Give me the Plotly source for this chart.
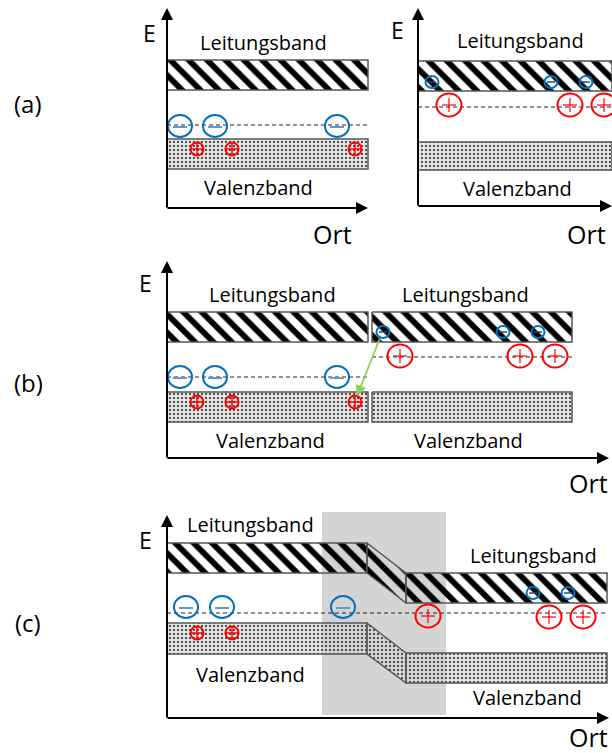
import plotly.graph_objects as go

W, H = 612, 753
FONT = "Open Sans"

# ---- band geometry (polygons in pixel-like data units) ----
cb_polys = [
    # (a) left, (a) right, (b) left, (b) right, (c) left, (c) slant, (c) right
    ([167, 368, 368, 167], [60, 60, 90, 90]),
    ([418, 612, 612, 418], [61, 61, 91, 91]),
    ([167, 368, 368, 167], [312, 312, 342, 342]),
    ([372, 572, 572, 372], [312, 312, 342, 342]),
    ([167, 367, 367, 167], [543, 543, 573, 573]),
    ([367, 406, 406, 367], [543, 573, 603, 573]),
    ([406, 607, 607, 406], [573, 573, 603, 603]),
]
vb_polys = [
    ([167, 368, 368, 167], [139, 139, 169, 169]),
    ([418, 612, 612, 418], [142, 142, 170, 170]),
    ([167, 368, 368, 167], [392, 392, 422, 422]),
    ([372, 572, 572, 372], [392, 392, 422, 422]),
    ([167, 367, 367, 167], [623, 623, 654, 654]),
    ([367, 406, 406, 367], [623, 653, 683, 654]),
    ([406, 607, 607, 406], [653, 653, 683, 683]),
]
fermi_x0 = [167, 418, 167, 372, 167]
fermi_x1 = [368, 612, 368, 572, 607]
fermi_y = [125, 107, 377, 357, 613]

# big electrons (donor level)
e_big_x = [180, 215, 337, 180, 215, 337, 186, 222, 343]
e_big_y = [126, 126, 126, 377, 377, 377, 607, 607, 607]
# small electrons (in conduction band)
e_small_x = [432, 551, 586, 383, 503, 538, 533, 568]
e_small_y = [82, 82, 82, 332, 332, 332, 593, 593]
# small holes (in valence band)
h_small_x = [197, 232, 355, 197, 232, 355, 197, 232]
h_small_y = [149, 149, 149, 402, 402, 402, 633, 633]
# big holes (acceptor level)
h_big_x = [449, 570, 604, 400, 520, 555, 428, 549, 583]
h_big_y = [105, 105, 105, 356, 356, 356, 616, 617, 617]

fig = go.Figure()

# shaded space-charge region in (c)
fig.add_shape(type="rect", x0=322, x1=446, y0=512, y1=715, layer="below",
              fillcolor="#d4d4d4", line=dict(width=0))

for xs, ys in cb_polys:
    fig.add_trace(go.Scatter(
        x=xs + [xs[0]], y=ys + [ys[0]], mode="lines", fill="toself",
        line=dict(color="#555555", width=1.5),
        fillcolor="rgba(0,0,0,0)",
        fillpattern=dict(shape="\\", size=13, solidity=0.45, fgopacity=1,
                         fgcolor="#000000", bgcolor="rgba(255,255,255,0)"),
        hoverinfo="skip", showlegend=False))
for xs, ys in vb_polys:
    fig.add_trace(go.Scatter(
        x=xs + [xs[0]], y=ys + [ys[0]], mode="lines", fill="toself",
        line=dict(color="#555555", width=1.5),
        fillcolor="rgba(0,0,0,0)",
        fillpattern=dict(shape=".", size=4, solidity=0.3, fgopacity=1,
                         fgcolor="#555555", bgcolor="rgba(220,220,220,0.55)"),
        hoverinfo="skip", showlegend=False))

shapes = []
for x0, x1, y in zip(fermi_x0, fermi_x1, fermi_y):
    shapes.append(dict(type="line", x0=x0, x1=x1, y0=y, y1=y,
                       line=dict(color="#222222", width=1, dash="4px,3px")))

for x, y in zip(e_big_x, e_big_y):
    shapes.append(dict(type="circle", x0=x - 12, x1=x + 12, y0=y - 11, y1=y + 11,
                       line=dict(color="#0070C0", width=2)))
    shapes.append(dict(type="line", x0=x - 7, x1=x + 7, y0=y + 1, y1=y + 1,
                       line=dict(color="#5B9BD5", width=2)))
for x, y in zip(e_small_x, e_small_y):
    shapes.append(dict(type="circle", x0=x - 6.5, x1=x + 6.5, y0=y - 6, y1=y + 6,
                       line=dict(color="#0070C0", width=2)))
    shapes.append(dict(type="line", x0=x - 4, x1=x + 4, y0=y, y1=y,
                       line=dict(color="#1F4E79", width=1.5)))
for x, y in zip(h_small_x, h_small_y):
    shapes.append(dict(type="circle", x0=x - 6.5, x1=x + 6.5, y0=y - 6.5, y1=y + 6.5,
                       line=dict(color="#FF0000", width=2)))
    shapes.append(dict(type="line", x0=x - 6, x1=x + 6, y0=y, y1=y,
                       line=dict(color="#FF0000", width=1.5)))
    shapes.append(dict(type="line", x0=x, x1=x, y0=y - 6, y1=y + 6,
                       line=dict(color="#FF0000", width=1.5)))
for x, y in zip(h_big_x, h_big_y):
    shapes.append(dict(type="circle", x0=x - 12.5, x1=x + 12.5, y0=y - 11.5, y1=y + 11.5,
                       line=dict(color="#FF0000", width=2)))
    shapes.append(dict(type="line", x0=x - 7, x1=x + 7, y0=y, y1=y,
                       line=dict(color="#FF0000", width=1.2)))
    shapes.append(dict(type="line", x0=x, x1=x, y0=y - 7, y1=y + 7,
                       line=dict(color="#FF0000", width=1.2)))

for s in shapes:
    s.update(xref="x", yref="y")
    fig.add_shape(**s)

annotations = []
# axes arrows: (tip_x, tip_y, tail_x, tail_y)
axis_arrows = [
    (167, 8, 167, 209), (368, 208, 166, 208),
    (418, 8, 418, 207), (612, 206, 417, 206),
    (167, 261, 167, 459), (609, 458, 166, 458),
    (167, 515, 167, 719), (609, 718, 166, 718),
]
for tx, ty, ax, ay in axis_arrows:
    annotations.append(dict(x=tx, y=ty, ax=ax, ay=ay, xref="x", yref="y",
                            axref="x", ayref="y", text="", showarrow=True,
                            arrowhead=2, arrowsize=1.2, arrowwidth=2,
                            arrowcolor="black", standoff=0, startstandoff=0))
# green transition arrow
annotations.append(dict(x=357, y=396, ax=380, ay=338, xref="x", yref="y",
                        axref="x", ayref="y", text="", showarrow=True,
                        arrowhead=2, arrowsize=1.2, arrowwidth=1.8,
                        arrowcolor="#92D050", standoff=0))

labels = [
    ("Leitungsband", 263, 42, 20), ("Valenzband", 258, 187, 20),
    ("Leitungsband", 520, 40, 20), ("Valenzband", 517, 188, 20),
    ("Leitungsband", 272, 294, 20), ("Leitungsband", 465, 294, 20),
    ("Valenzband", 270, 440, 20), ("Valenzband", 468, 440, 20),
    ("Leitungsband", 250, 524, 20), ("Leitungsband", 533, 555, 20),
    ("Valenzband", 250, 674, 20), ("Valenzband", 527, 697, 20),
    ("E", 149, 33, 23), ("E", 397, 30, 23), ("E", 145, 283, 23), ("E", 145, 540, 23),
    ("Ort", 332, 234, 25), ("Ort", 586, 234, 25), ("Ort", 588, 483, 25),
    ("Ort", 588, 737, 25),
    ("(a)", 28, 103, 24), ("(b)", 28, 382, 24), ("(c)", 28, 622, 24),
]
for t, x, y, s in labels:
    annotations.append(dict(x=x, y=y, xref="x", yref="y", text=t, showarrow=False,
                            font=dict(family=FONT, size=s, color="black"),
                            xanchor="center", yanchor="middle"))

fig.update_layout(
    width=W, height=H, margin=dict(l=0, r=0, t=0, b=0),
    paper_bgcolor="white", plot_bgcolor="white",
    xaxis=dict(range=[0, W], visible=False, fixedrange=True),
    yaxis=dict(range=[H, 0], visible=False, fixedrange=True),
    annotations=annotations, showlegend=False,
)
fig.write_html("out.html")
